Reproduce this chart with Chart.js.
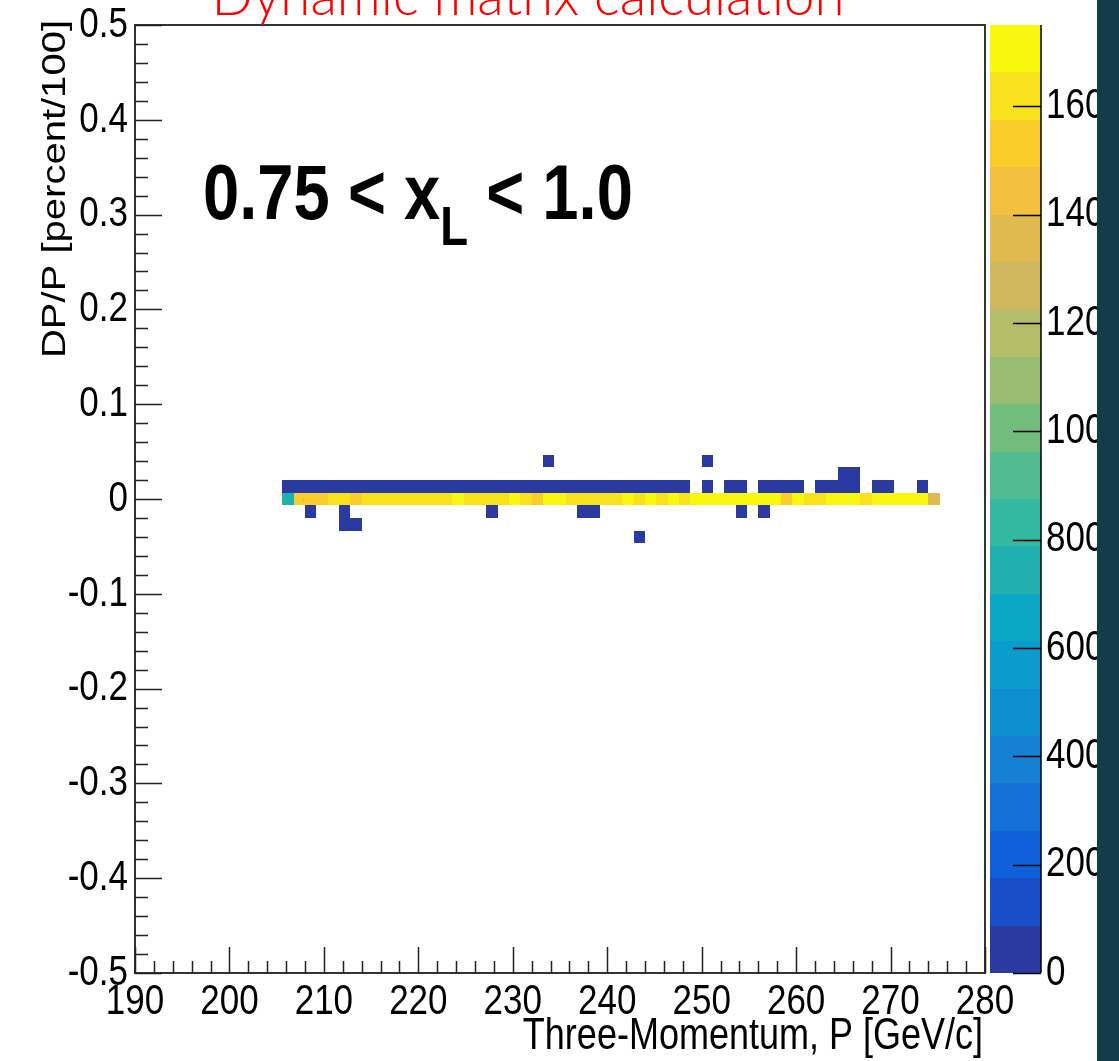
<!DOCTYPE html>
<html>
<head>
<meta charset="utf-8">
<title>Dynamic matrix calculation</title>
<script src="https://cdn.jsdelivr.net/npm/chart.js@4.4.0/dist/chart.umd.min.js"></script>
<style>
  html, body { margin: 0; padding: 0; background: #fff; }
  #wrap { position: relative; width: 1119px; height: 1061px; }
</style>
</head>
<body>
<div id="wrap"><canvas id="dpChart" width="1119" height="1061"></canvas></div>
<script>
// histogram binning: 75 x 75 bins
const pMin = 190, pMax = 280, pBins = 75;
const dMin = -0.5, dMax = 0.5, dBins = 75;
const zMax = 17500;

const xTicks = [190, 200, 210, 220, 230, 240, 250, 260, 270, 280];
const yTicks = [-0.5, -0.4, -0.3, -0.2, -0.1, 0, 0.1, 0.2, 0.3, 0.4, 0.5];
const zTicks = [0, 2000, 4000, 6000, 8000, 10000, 12000, 14000, 16000];

// DP/P bin 37 (around 0): P bins 13..70
const zeroRowFirst = 13;
const zeroRowCounts = [
  7400, 15300, 15500, 15200, 16100, 16300, 15400, 16200, 16000, 16400,
  16100, 16300, 15900, 16200, 16400, 17000, 16300, 16100, 16400, 16200,
  16900, 16000, 15100, 17100, 16800, 16200, 16400, 16100, 16300, 16500,
  16900, 16000, 17000, 16100, 16800, 15900, 17200, 16900, 17300, 17000,
  17100, 16800, 17400, 16900, 15300, 16900, 16200, 16400, 17000, 17500,
  16800, 16000, 17100, 16900, 17200, 17000, 16800, 13600
];

// DP/P bin 38
const row38Bins = [13, 14, 15, 16, 17, 18, 19, 20, 21, 22, 23, 24, 25, 26, 27, 28, 29, 30,
  31, 32, 33, 34, 35, 36, 37, 38, 39, 40, 41, 42, 43, 44, 45, 46, 47, 48,
  50, 52, 53, 55, 56, 57, 58, 60, 61, 62, 63, 65, 66, 69];
const row38Counts = [520, 610, 580, 640, 590, 560, 600, 630, 570, 550, 620, 590, 540, 600, 570, 610, 580, 560,
  530, 590, 620, 570, 550, 600, 580, 540, 610, 560, 590, 530, 570, 550, 600, 520, 560, 480,
  40, 120, 90, 60, 150, 110, 70, 180, 210, 260, 230, 50, 80, 30];
// DP/P bins 39, 40 (above)
const row39Bins = [62, 63];
const row39Counts = [20, 30];
const row40Bins = [36, 50];
const row40Counts = [10, 10];
// DP/P bins 36, 35, 34 (below)
const row36Bins = [15, 18, 31, 39, 40, 53, 55];
const row36Counts = [10, 20, 10, 10, 20, 10, 10];
const row35Bins = [18, 19];
const row35Counts = [10, 10];
const row34Bins = [44];
const row34Counts = [10];

const pW = (pMax - pMin) / pBins;
const dW = (dMax - dMin) / dBins;

// kBird-like palette, 20 contour bands
const bandColors = ['#2a3aa0', '#1a4ec8', '#1060dc', '#1670d8', '#1580d4', '#0d8ecf', '#0a9ccc', '#0aa8c4',
  '#20b0b0', '#33b8a2', '#52bb8f', '#72bd7c', '#99bd72', '#b5bd6a', '#d0b75f', '#e0b94f',
  '#f2c03e', '#fbcd2a', '#f8e21c', '#f8f80f'];

function bandColor(v) {
  return bandColors[Math.min(19, Math.floor(v / zMax * 20))];
}

function cellsFor(dpBin, bins, counts) {
  return bins.map((b, i) => ({
    x: pMin + (b + 0.5) * pW,
    y: dMin + (dpBin + 0.5) * dW,
    v: counts[i]
  }));
}

const cells = [].concat(
  cellsFor(37, zeroRowCounts.map((c, i) => zeroRowFirst + i), zeroRowCounts),
  cellsFor(38, row38Bins, row38Counts),
  cellsFor(39, row39Bins, row39Counts),
  cellsFor(40, row40Bins, row40Counts),
  cellsFor(36, row36Bins, row36Counts),
  cellsFor(35, row35Bins, row35Counts),
  cellsFor(34, row34Bins, row34Counts)
);

const sans = '"Liberation Sans", Arial, Helvetica, sans-serif';
const ink = '#000';
const stretch = 1.22; // the original picture is a bit taller than wide

// text drawn with the same vertical stretch as the original
function tallText(ctx, text, x, y, font, align, rot) {
  ctx.save();
  ctx.translate(x, y);
  if (rot) {
    ctx.rotate(-Math.PI / 2);
    ctx.scale(stretch, 1);
  } else {
    ctx.scale(1, stretch);
  }
  ctx.font = font;
  ctx.textAlign = align;
  ctx.textBaseline = 'middle';
  ctx.fillText(text, 0, 0);
  ctx.restore();
}

const noPad = s => { s.paddingTop = 0; s.paddingBottom = 0; s.paddingLeft = 0; s.paddingRight = 0; };

const heatPlugin = {
  id: 'heatCells',
  beforeDatasetsDraw(chart) {
    const { ctx, scales: { x, y } } = chart;
    ctx.save();
    chart.data.datasets[0].data.forEach(c => {
      const x0 = Math.round(x.getPixelForValue(c.x - pW / 2));
      const x1 = Math.round(x.getPixelForValue(c.x + pW / 2));
      const y0 = Math.round(y.getPixelForValue(c.y + dW / 2));
      const y1 = Math.round(y.getPixelForValue(c.y - dW / 2));
      ctx.fillStyle = bandColor(c.v);
      ctx.fillRect(x0, y0, x1 - x0, y1 - y0);
    });
    ctx.restore();
  },
  afterDatasetsDraw(chart) {
    const { ctx, chartArea: a, scales: { x, y, z } } = chart;
    ctx.save();
    // frame
    ctx.strokeStyle = '#333';
    ctx.lineWidth = 2;
    ctx.strokeRect(a.left, a.top, a.right - a.left, a.bottom - a.top);

    // ticks inside the frame
    ctx.strokeStyle = '#222';
    ctx.lineWidth = 1.5;
    ctx.beginPath();
    for (let i = 0; i <= 45; i++) {
      const px = Math.round(x.getPixelForValue(pMin + i * 2)) + 0.5;
      const len = i % 5 === 0 ? 26 : 12;
      ctx.moveTo(px, a.bottom);
      ctx.lineTo(px, a.bottom - len);
    }
    for (let i = 0; i <= 50; i++) {
      const py = Math.round(y.getPixelForValue(dMin + i * 0.02)) + 0.5;
      const len = i % 5 === 0 ? 27 : 13;
      ctx.moveTo(a.left, py);
      ctx.lineTo(a.left + len, py);
    }
    ctx.stroke();

    // colour bar
    const barL = 990, barR = 1041;
    for (let i = 0; i < 20; i++) {
      const yb = Math.round(z.getPixelForValue(i * zMax / 20));
      const yt = Math.round(z.getPixelForValue((i + 1) * zMax / 20));
      ctx.fillStyle = bandColors[i];
      ctx.fillRect(barL, yt, barR - barL, yb - yt);
    }
    ctx.strokeStyle = '#000';
    ctx.lineWidth = 1.5;
    ctx.beginPath();
    ctx.moveTo(barR, a.top);
    ctx.lineTo(barR, a.bottom);
    z.ticks.forEach(t => {
      const py = Math.round(z.getPixelForValue(t.value)) + 0.5;
      ctx.moveTo(barR, py);
      ctx.lineTo(barR - 28, py);
    });
    ctx.stroke();

    // tick labels
    ctx.fillStyle = ink;
    const lf = `35px ${sans}`;
    x.ticks.forEach(t => tallText(ctx, String(t.value), x.getPixelForValue(t.value), 1002, lf, 'center'));
    y.ticks.forEach(t => tallText(ctx, t.value === 0 ? '0' : t.value.toFixed(1), 128, y.getPixelForValue(t.value), lf, 'right'));
    z.ticks.forEach(t => tallText(ctx, String(t.value), 1046, z.getPixelForValue(t.value), lf, 'left'));

    // axis titles
    tallText(ctx, 'Three-Momentum, P [GeV/c]', 983, 1037, `36px ${sans}`, 'right');
    tallText(ctx, 'DP/P [percent/100]', 56, 20, `32.8px ${sans}`, 'right', true);

    // annotation
    ctx.textBaseline = 'alphabetic';
    ctx.textAlign = 'left';
    let fs = 65;
    const widths = () => {
      ctx.font = `bold ${fs}px ${sans}`;
      const w1 = ctx.measureText('0.75 < x').width, w3 = ctx.measureText(' < 1.0').width;
      ctx.font = `bold ${fs * 0.7}px ${sans}`;
      return [w1, ctx.measureText('L').width, w3];
    };
    let w = widths();
    fs = fs * 430 / (w[0] + w[1] + w[2]);
    w = widths();
    const s = 1.2;
    ctx.save();
    ctx.scale(1, s);
    let tx = 203;
    ctx.font = `bold ${fs}px ${sans}`;
    ctx.fillText('0.75 < x', tx, 219 / s);
    tx += w[0];
    ctx.font = `bold ${fs * 0.7}px ${sans}`;
    ctx.fillText('L', tx, 245 / s);
    tx += w[1];
    ctx.font = `bold ${fs}px ${sans}`;
    ctx.fillText(' < 1.0', tx, 219 / s);
    ctx.restore();
    ctx.restore();
  },
  afterDraw(chart) {
    const { ctx } = chart;
    ctx.save();
    // title, cut at the top edge
    const t = 'Dynamic matrix calculation';
    let fs = 48;
    ctx.font = `300 ${fs}px Lato, "DejaVu Sans", sans-serif`;
    fs = fs * 633 / ctx.measureText(t).width;
    ctx.font = `300 ${fs}px Lato, "DejaVu Sans", sans-serif`;
    ctx.fillStyle = '#ff0000';
    ctx.textAlign = 'center';
    ctx.textBaseline = 'alphabetic';
    ctx.fillText(t, 528, 15);
    // dark strip at the right edge
    ctx.fillStyle = '#133b4a';
    ctx.fillRect(1097, 0, 22, 1061);
    ctx.restore();
  }
};

new Chart(document.getElementById('dpChart').getContext('2d'), {
  type: 'scatter',
  data: {
    datasets: [{
      label: 'entries',
      data: cells,
      pointRadius: 0,
      pointHoverRadius: 0,
      showLine: false
    }]
  },
  options: {
    responsive: false,
    animation: false,
    events: [],
    layout: { autoPadding: false, padding: { top: 25, left: 0, right: 0, bottom: 0 } },
    plugins: { legend: { display: false }, tooltip: { enabled: false } },
    scales: {
      x: {
        type: 'linear', min: pMin, max: pMax,
        grid: { display: false, drawTicks: false }, border: { display: false },
        afterBuildTicks: s => { s.ticks = xTicks.map(v => ({ value: v })); },
        afterFit: s => { s.height = 88; noPad(s); },
        ticks: { display: false }
      },
      y: {
        type: 'linear', min: dMin, max: dMax,
        grid: { display: false, drawTicks: false }, border: { display: false },
        afterBuildTicks: s => { s.ticks = yTicks.map(v => ({ value: v })); },
        afterFit: s => { s.width = 135; noPad(s); },
        ticks: { display: false }
      },
      z: {
        type: 'linear', position: 'right', min: 0, max: zMax,
        grid: { display: false, drawTicks: false }, border: { display: false },
        afterBuildTicks: s => { s.ticks = zTicks.map(v => ({ value: v })); },
        afterFit: s => { s.width = 134; noPad(s); },
        ticks: { display: false }
      }
    }
  },
  plugins: [heatPlugin]
});
</script>
</body>
</html>
